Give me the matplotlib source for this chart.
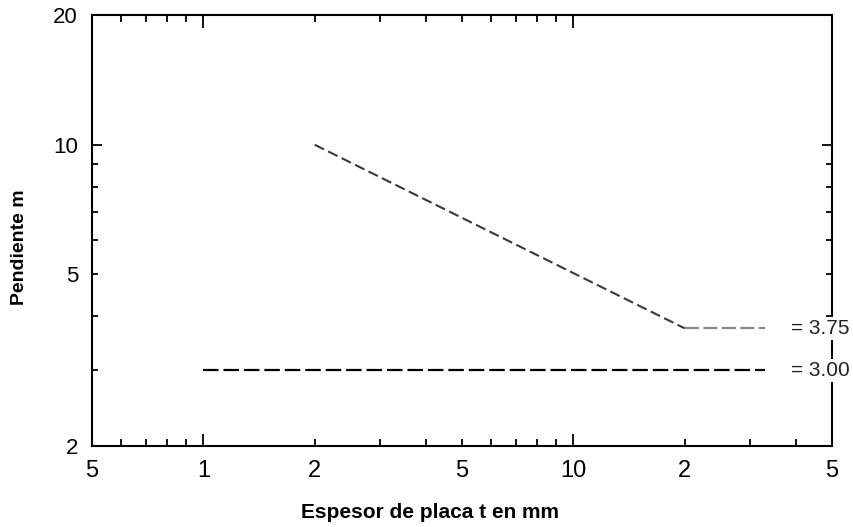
import matplotlib
matplotlib.use("Agg")
import matplotlib.pyplot as plt
from matplotlib.ticker import FixedLocator, FuncFormatter

# Data
slope_t = [2, 20, 33]
slope_m = [10, 3.75, 3.75]
flat_t = [1, 33]
flat_m = [3.0, 3.0]
x_labels = {0.5: "5", 1: "1", 2: "2", 5: "5", 10: "10", 20: "2", 50: "5"}
y_labels = {2: "2", 5: "5", 10: "10", 20: "20"}
annotations = [("= 3.75", 3.75), ("= 3.00", 3.0)]

fig = plt.figure(figsize=(8.54, 5.27), dpi=100)
ax = fig.add_axes([0.1077, 0.1537, 0.8665, 0.8178])
ax.set_xscale("log")
ax.set_yscale("log")
ax.set_xlim(0.5, 50)
ax.set_ylim(2, 20)

# sloped segment (dark) and horizontal segment (lighter)
ax.plot(slope_t[:2], slope_m[:2], color="#3a3a3a", lw=1.5, dashes=(5, 2.2))
ax.plot(slope_t[1:], slope_m[1:], color="#888888", lw=1.6, dashes=(6.3, 2.0))
ax.plot(flat_t, flat_m, color="black", lw=1.6, dashes=(7, 2.2))

for s, v in annotations:
    ax.text(0.945, v, s, transform=ax.get_yaxis_transform(), ha="left", va="center",
            fontsize=15, family="Liberation Sans", color="#222222",
            bbox=dict(facecolor="white", edgecolor="none", pad=1.5), clip_on=False, zorder=5)

# ticks
xmaj = [1, 10]
xmin = [0.5, 0.6, 0.7, 0.8, 0.9, 2, 3, 4, 5, 6, 7, 8, 9, 20, 30, 40, 50]
ax.xaxis.set_major_locator(FixedLocator(xmaj))
ax.xaxis.set_minor_locator(FixedLocator(xmin))
fmt_x = FuncFormatter(lambda v, p: x_labels.get(round(v, 3), ""))
ax.xaxis.set_major_formatter(fmt_x)
ax.xaxis.set_minor_formatter(fmt_x)

ymaj = [10]
ymin = [2, 3, 4, 5, 6, 7, 8, 9, 20]
ax.yaxis.set_major_locator(FixedLocator(ymaj))
ax.yaxis.set_minor_locator(FixedLocator(ymin))
fmt_y = FuncFormatter(lambda v, p: y_labels.get(round(v, 3), ""))
ax.yaxis.set_major_formatter(fmt_y)
ax.yaxis.set_minor_formatter(fmt_y)

ax.tick_params(axis="both", which="both", direction="in", width=1.3,
               top=True, right=True, color="black")
ax.tick_params(axis="x", which="major", length=9)
ax.tick_params(axis="x", which="minor", length=5)
ax.tick_params(axis="y", which="major", length=7.5)
ax.tick_params(axis="y", which="minor", length=4)
ax.tick_params(axis="x", which="both", pad=10, labelsize=17)
ax.tick_params(axis="y", which="both", pad=10, labelsize=16)
for lab in ax.get_xticklabels(which="both") + ax.get_yticklabels(which="both"):
    lab.set_family("Liberation Sans")

# the top axis has no ticks beyond 10
for tick, loc in zip(ax.xaxis.get_minor_ticks(), xmin):
    if loc > 10:
        tick.tick2line.set_visible(False)

for sp in ax.spines.values():
    sp.set_linewidth(1.5)

ax.set_xlabel("Espesor de placa t en mm", family="Liberation Sans", fontweight="bold", fontsize=15)
ax.set_ylabel("Pendiente m", family="Liberation Sans", fontweight="bold", fontsize=14)
ax.xaxis.set_label_coords(0.457, -0.133)
ax.yaxis.set_label_coords(-0.086, 0.462)

fig.savefig("out.png", dpi=100)
